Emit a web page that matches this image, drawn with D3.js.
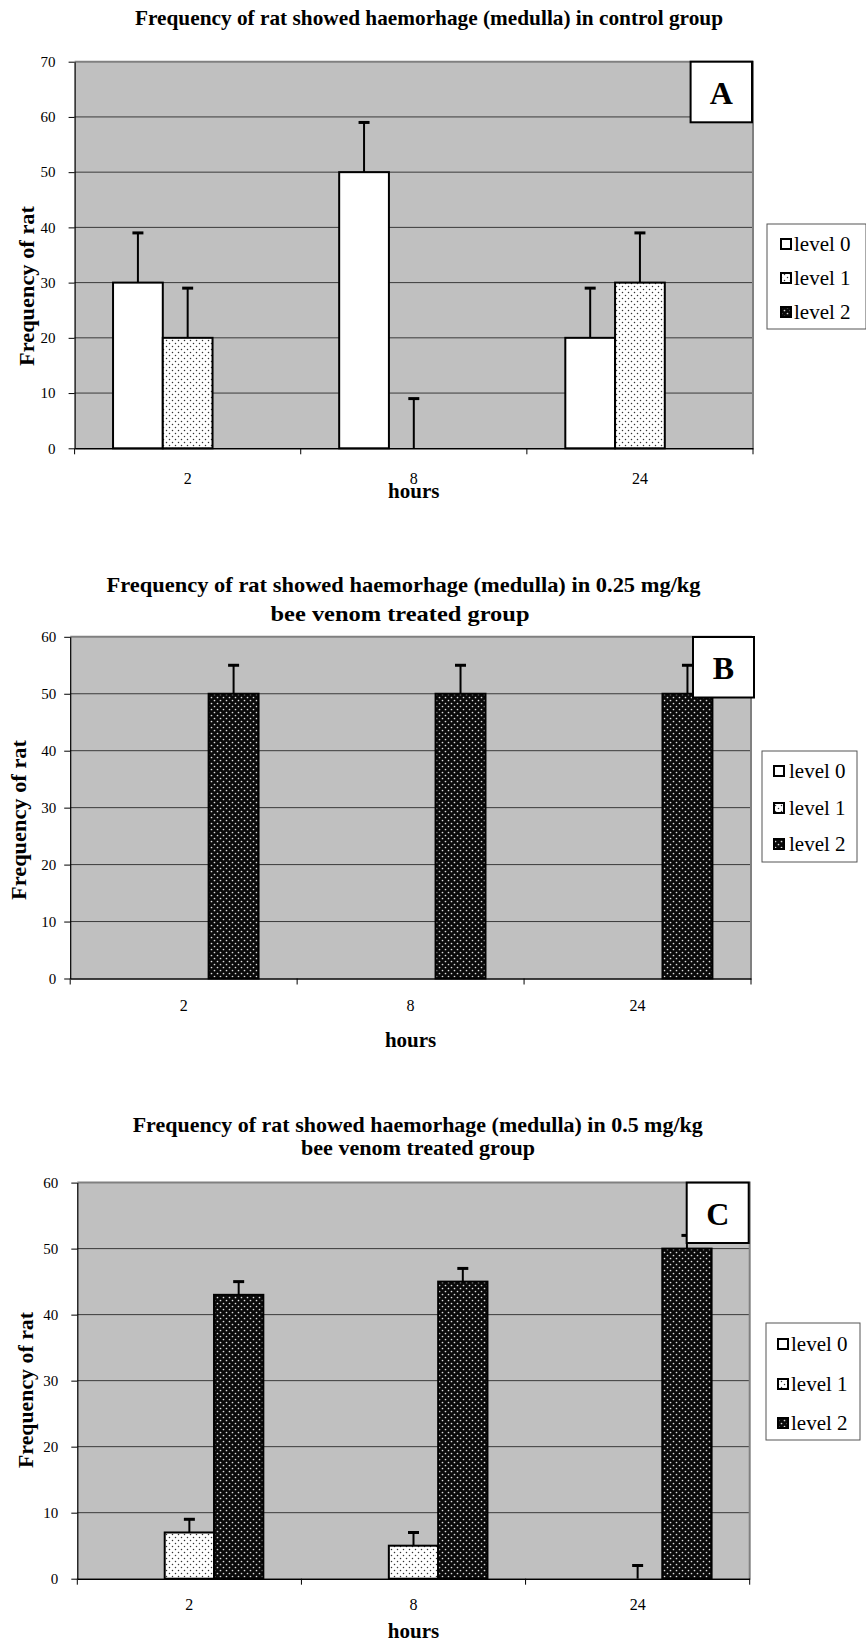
<!DOCTYPE html>
<html><head><meta charset="utf-8">
<script src="https://cdn.jsdelivr.net/npm/d3@7"></script>
<style>
body{margin:0;background:#fff}
svg{display:block}
text{font-family:"Liberation Serif","Times New Roman",serif;fill:#000}
</style>
</head><body>
<svg id="c" width="866" height="1644"></svg>
<script>
// ---------- data ----------
const categories = ["2", "8", "24"];
const seriesNames = ["level 0", "level 1", "level 2"];
const titleA = ["Frequency of rat showed haemorhage (medulla) in control group"];
const titleB = ["Frequency of rat showed haemorhage (medulla) in 0.25 mg/kg", "bee  venom treated group"];
const titleC = ["Frequency of rat showed haemorhage (medulla) in 0.5 mg/kg", "bee venom treated group"];
const panelLetters = ["A", "B", "C"];
const yLabels = ["Frequency  of  rat", "Frequency of rat", "Frequency of rat"];
const xLabel = "hours";
const yMaxes = [70, 60, 60];
// values per series (rows: level 0, level 1, level 2; columns: 2, 8, 24 h)
const valuesA = [[30, 50, 20], [20, 0, 30], [0, 0, 0]];
const errorsA = [[9, 9, 9], [9, 9, 9], [0, 0, 0]];
const valuesB = [[0, 0, 0], [0, 0, 0], [50, 50, 50]];
const errorsB = [[0, 0, 0], [0, 0, 0], [5, 5, 5]];
const valuesC = [[0, 0, 0], [7, 5, 0], [43, 45, 50]];
const errorsC = [[0, 0, 0], [2, 2, 2], [2, 2, 2]];

// ---------- layout ----------
const layouts = [
  {plot:{l:74.6,r:753,t:61.7,b:448.3}, titles:[{y:18.3,cx:429,len:588}], tfs:21,
   ylab:{x:26.5,y:286,len:160}, gap:19, catY:481, hoursY:491,
   legend:{x:767,y:224,w:99,h:105,rows:[244,278,312],swX:781,txX:794},
   box:{x:690.6,y:61.7,w:61.4,h:60.6}},
  {plot:{l:70.2,r:751,t:636.8,b:978.5}, titles:[{y:584.8,cx:403.6,len:594},{y:613.6,cx:400,len:259}], tfs:22,
   ylab:{x:19.3,y:820,len:160}, gap:14, catY:1008, hoursY:1040,
   legend:{x:762,y:751,w:95,h:111,rows:[771,808,844],swX:774,txX:789},
   box:{x:693,y:637,w:61,h:60.5}},
  {plot:{l:77.3,r:749.7,t:1182.6,b:1578.7}, titles:[{y:1124.3,cx:417.7,len:570},{y:1147.2,cx:418,len:234}], tfs:22,
   ylab:{x:26,y:1390,len:156}, gap:19, catY:1607, hoursY:1631,
   legend:{x:766,y:1323,w:94,h:117,rows:[1344,1384,1423],swX:778,txX:791},
   box:{x:686.7,y:1182.6,w:62,h:60.4}}
];

const svg = d3.select("#c");
const defs = svg.append("defs");
// level 1 pattern: white with black dots
const p1 = defs.append("pattern").attr("id","pat1").attr("patternUnits","userSpaceOnUse")
  .attr("width",6).attr("height",6);
p1.append("rect").attr("width",6).attr("height",6).attr("fill","#fff");
p1.append("circle").attr("cx",1.5).attr("cy",1.5).attr("r",0.75).attr("fill","#333");
p1.append("circle").attr("cx",4.5).attr("cy",4.5).attr("r",0.75).attr("fill","#333");
// level 2 pattern: black with white dots
const p2 = defs.append("pattern").attr("id","pat2").attr("patternUnits","userSpaceOnUse")
  .attr("width",6).attr("height",6);
p2.append("rect").attr("width",6).attr("height",6).attr("fill","#0a0a0a");
p2.append("circle").attr("cx",1.5).attr("cy",1.5).attr("r",0.85).attr("fill","#ddd");
p2.append("circle").attr("cx",4.5).attr("cy",4.5).attr("r",0.85).attr("fill","#ddd");

const fills = ["#fff", "url(#pat1)", "url(#pat2)"];
const titles = [titleA, titleB, titleC];
const valueSets = [valuesA, valuesB, valuesC];
const errorSets = [errorsA, errorsB, errorsC];
const serif = '"Liberation Serif","Times New Roman",serif';

layouts.forEach((L, i) => {
  const g = svg.append("g");
  const P = L.plot;
  const values = valueSets[i], errors = errorSets[i];
  const x = d3.scaleBand().domain(categories).range([P.l, P.r]).padding(0);
  const bw = x.bandwidth();
  const xs = d3.scaleBand().domain(seriesNames).range([0.17*bw, 0.83*bw]).padding(0);
  const y = d3.scaleLinear().domain([0, yMaxes[i]]).range([P.b, P.t]);
  const ticks = d3.range(0, yMaxes[i] + 1, 10);

  // titles
  titles[i].forEach((t, k) => {
    g.append("text").attr("x", L.titles[k].cx).attr("y", L.titles[k].y)
      .attr("text-anchor","middle").attr("dominant-baseline","central")
      .attr("font-weight","bold").attr("font-size", L.tfs)
      .attr("textLength", L.titles[k].len).attr("lengthAdjust","spacingAndGlyphs")
      .text(t);
  });

  // plot background
  g.append("rect").attr("x",P.l).attr("y",P.t).attr("width",P.r-P.l).attr("height",P.b-P.t)
    .attr("fill","#c0c0c0");
  // gridlines
  g.append("g").selectAll("line").data(ticks.filter(v => v > 0 && v < yMaxes[i])).join("line")
    .attr("x1",P.l).attr("x2",P.r).attr("y1",d=>y(d)).attr("y2",d=>y(d))
    .attr("stroke","#3a3a3a").attr("stroke-width",1);
  // top / right border
  g.append("path").attr("d",`M${P.l},${P.t}H${P.r}V${P.b}`).attr("fill","none")
    .attr("stroke","#808080").attr("stroke-width",2);

  // bars
  seriesNames.forEach((s, si) => {
    const data = categories.map((c, ci) => ({c, v: values[si][ci], e: errors[si][ci]}));
    g.append("g").selectAll("rect").data(data.filter(d => d.v > 0)).join("rect")
      .attr("x", d => x(d.c) + xs(s)).attr("width", xs.bandwidth())
      .attr("y", d => y(d.v)).attr("height", d => y(0) - y(d.v))
      .attr("fill", fills[si]).attr("stroke","#000").attr("stroke-width",2);
    const eb = g.append("g").selectAll("g").data(data.filter(d => d.e > 0)).join("g");
    eb.append("line")
      .attr("x1", d => x(d.c) + xs(s) + xs.bandwidth()/2).attr("x2", d => x(d.c) + xs(s) + xs.bandwidth()/2)
      .attr("y1", d => y(d.v)).attr("y2", d => y(d.v + d.e))
      .attr("stroke","#000").attr("stroke-width",2);
    eb.append("line")
      .attr("x1", d => x(d.c) + xs(s) + xs.bandwidth()/2 - 5.5).attr("x2", d => x(d.c) + xs(s) + xs.bandwidth()/2 + 5.5)
      .attr("y1", d => y(d.v + d.e)).attr("y2", d => y(d.v + d.e))
      .attr("stroke","#000").attr("stroke-width",3);
  });

  // y axis
  const ya = g.append("g").attr("transform",`translate(${P.l},0)`)
    .call(d3.axisLeft(y).tickValues(ticks).tickSize(6).tickPadding(L.gap - 6).tickSizeOuter(0));
  ya.attr("font-family", serif);
  ya.select(".domain").attr("stroke","#000").attr("stroke-width",1.2);
  ya.selectAll(".tick line").attr("stroke","#000");
  ya.selectAll(".tick text").attr("font-size",15).attr("fill","#000");

  // x axis (category labels)
  const xa = g.append("g").attr("transform",`translate(0,${P.b})`)
    .call(d3.axisBottom(x).tickSize(0).tickPadding(L.catY - P.b - 8).tickSizeOuter(0));
  xa.attr("font-family", serif);
  xa.select(".domain").attr("stroke","#000").attr("stroke-width",1.5);
  xa.selectAll(".tick text").attr("font-size",16).attr("fill","#000");
  g.append("g").selectAll("line").data(categories.map(c => x(c)).concat([P.r])).join("line")
    .attr("x1",d=>d).attr("x2",d=>d).attr("y1",P.b).attr("y2",P.b+6)
    .attr("stroke","#000").attr("stroke-width",1);

  // axis titles
  g.append("text").attr("x",(P.l+P.r)/2).attr("y",L.hoursY).attr("text-anchor","middle")
    .attr("dominant-baseline","central").attr("font-weight","bold").attr("font-size",21).text(xLabel);
  g.append("text").attr("transform",`translate(${L.ylab.x},${L.ylab.y}) rotate(-90)`)
    .attr("text-anchor","middle").attr("dominant-baseline","central")
    .attr("font-weight","bold").attr("font-size",21)
    .attr("textLength",L.ylab.len).attr("lengthAdjust","spacingAndGlyphs").text(yLabels[i]);

  // panel letter box
  const B = L.box;
  g.append("rect").attr("x",B.x).attr("y",B.y).attr("width",B.w).attr("height",B.h)
    .attr("fill","#fff").attr("stroke","#000").attr("stroke-width",2);
  g.append("text").attr("x",B.x+B.w/2).attr("y",B.y+B.h/2+1).attr("text-anchor","middle")
    .attr("dominant-baseline","central").attr("font-weight","bold").attr("font-size",32).text(panelLetters[i]);

  // legend
  const Lg = L.legend;
  g.append("rect").attr("x",Lg.x).attr("y",Lg.y).attr("width",Lg.w).attr("height",Lg.h)
    .attr("fill","#fff").attr("stroke","#555").attr("stroke-width",1);
  const items = g.append("g").selectAll("g").data(seriesNames).join("g");
  items.append("rect").attr("x",Lg.swX).attr("y",(d,k)=>Lg.rows[k]-5).attr("width",10).attr("height",10)
    .attr("fill",(d,k)=>fills[k]).attr("stroke","#000").attr("stroke-width",2);
  items.append("text").attr("x",Lg.txX).attr("y",(d,k)=>Lg.rows[k]).attr("dominant-baseline","central")
    .attr("font-size",21).text(d=>d);
});
</script>
</body></html>
